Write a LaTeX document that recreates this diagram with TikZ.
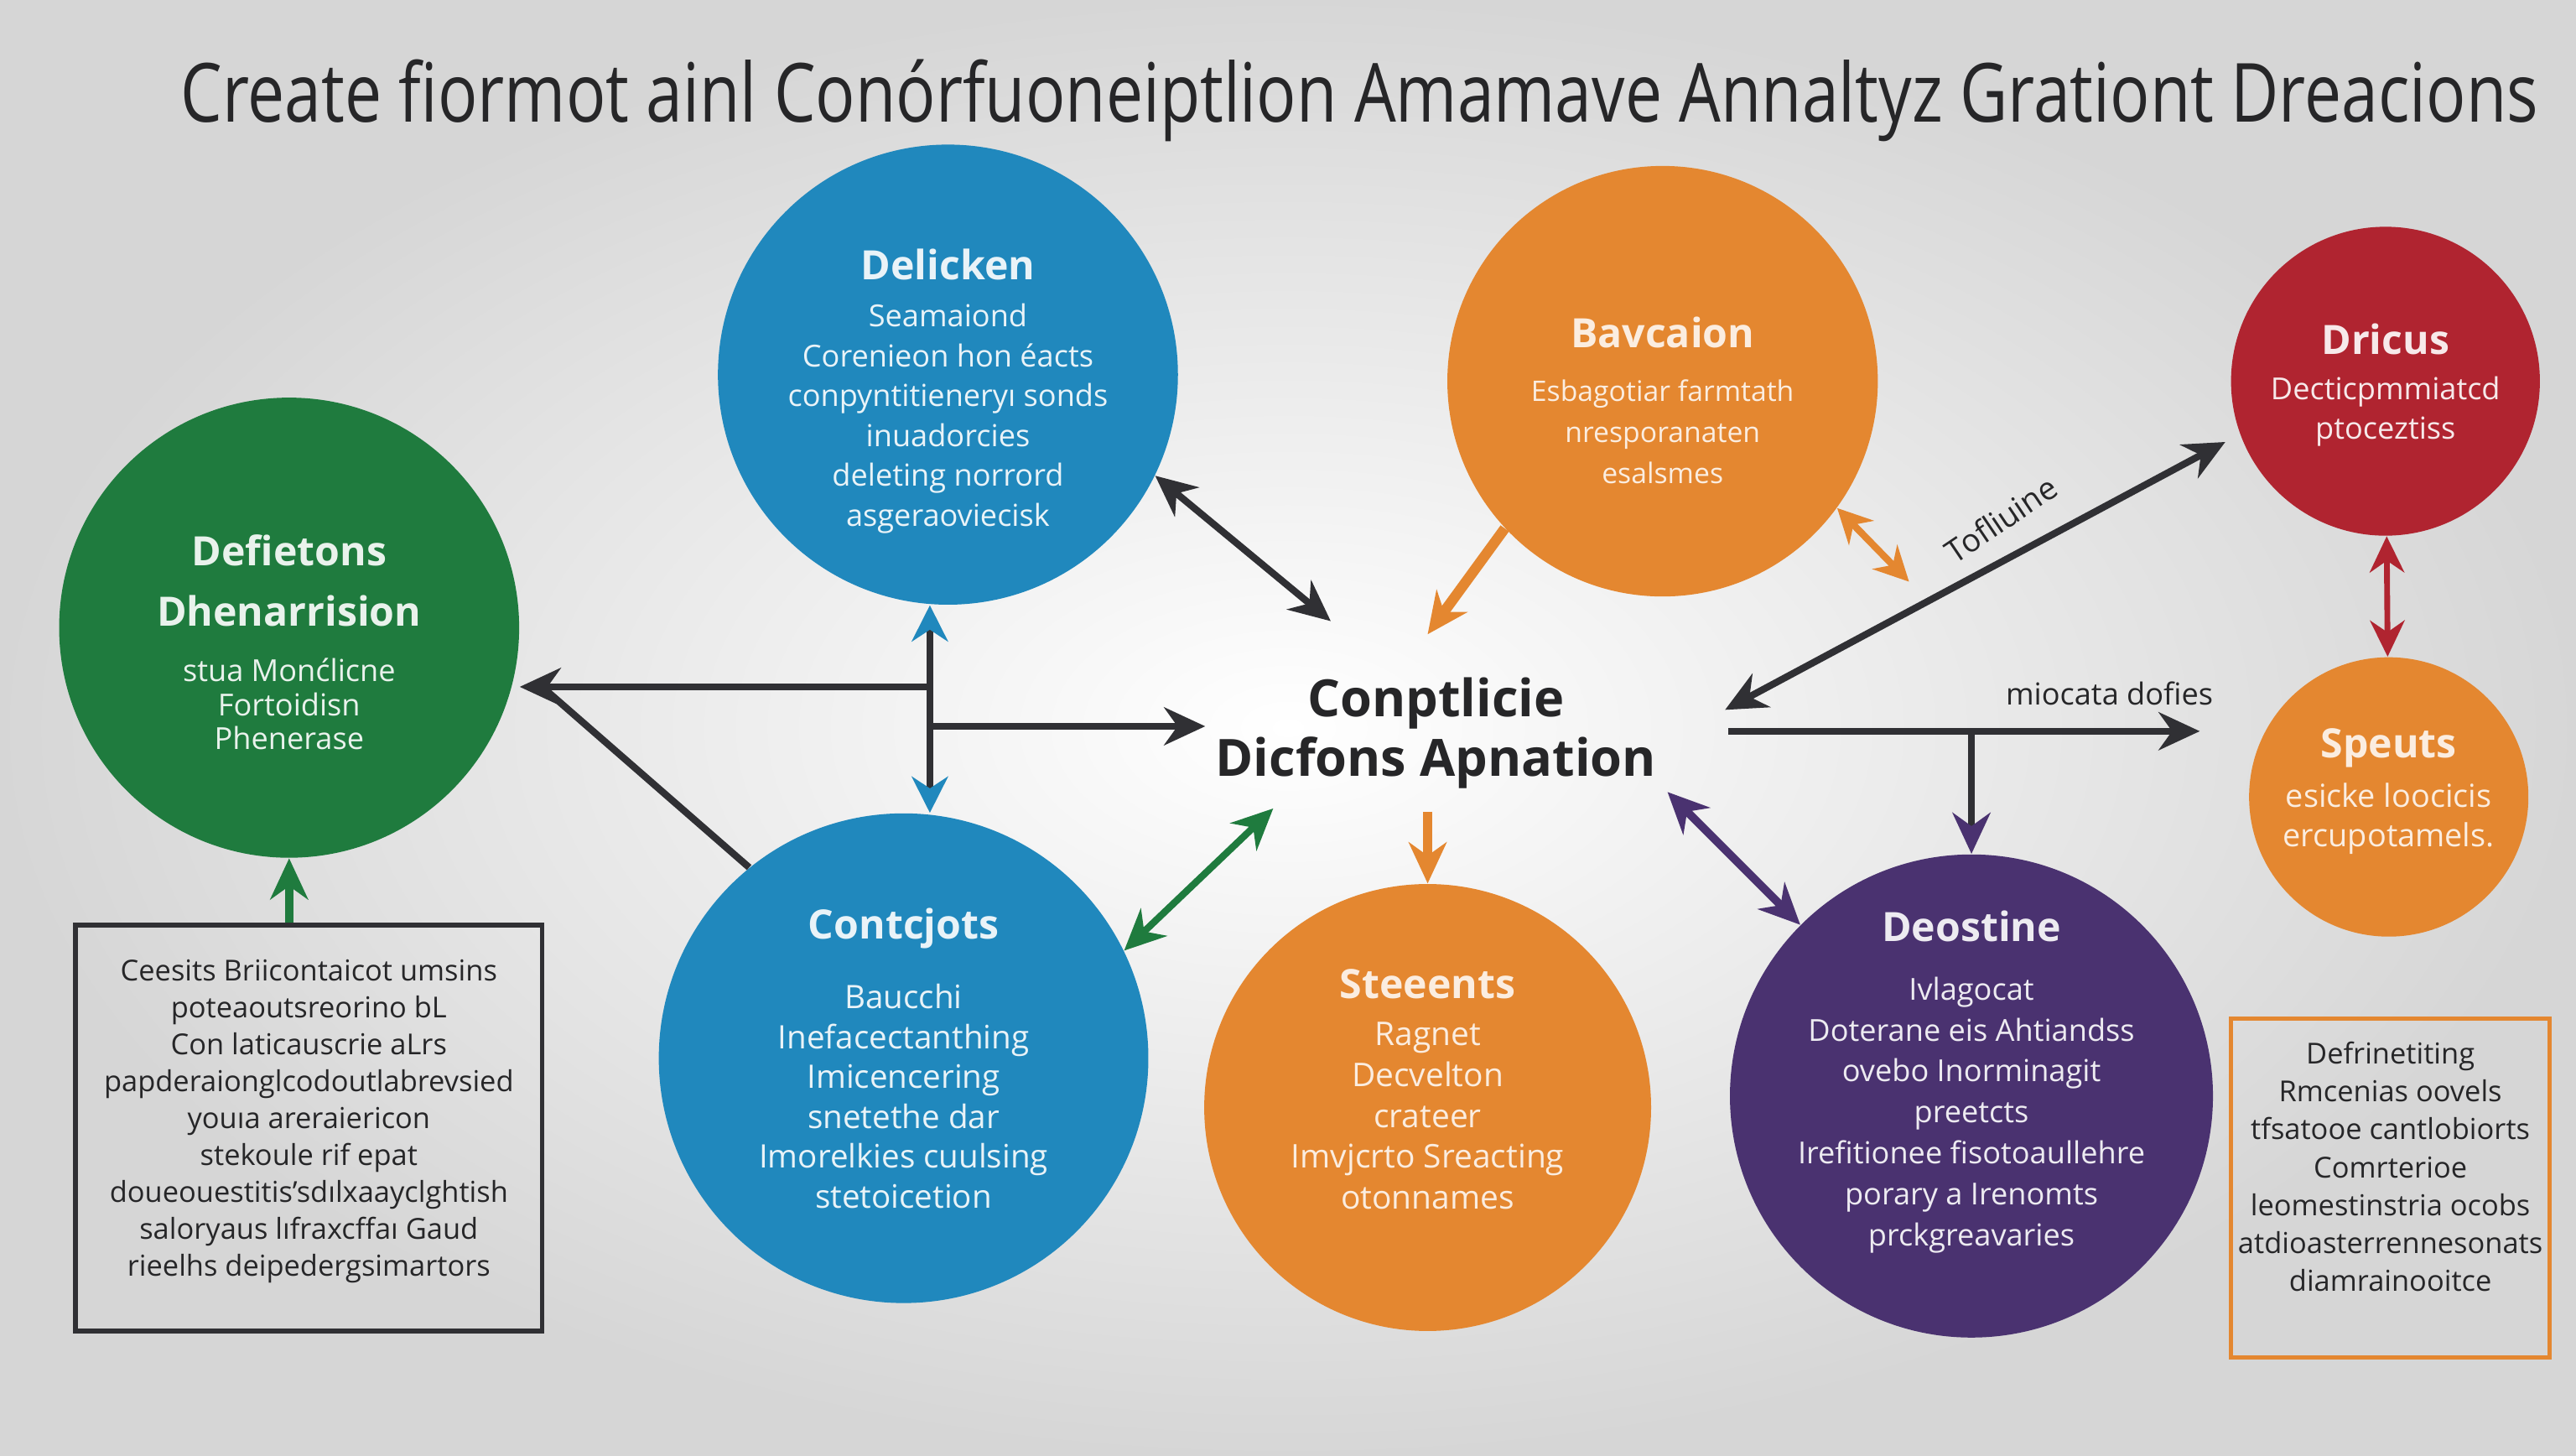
\documentclass[tikz,border=0pt]{standalone}
\usepackage{fontspec}
\setmainfont{Open Sans}
\usepackage{graphicx}
\usetikzlibrary{positioning,calc,arrows.meta}
\definecolor{bubgreen}{RGB}{31,123,62}
\definecolor{bubblue}{RGB}{32,136,189}
\definecolor{buborange}{RGB}{228,135,48}
\definecolor{bubred}{RGB}{176,36,48}
\definecolor{bubpurple}{RGB}{74,50,112}
\definecolor{linkgray}{RGB}{48,48,52}
\definecolor{inkgray}{RGB}{38,38,40}

\newcommand{\bubtitle}[1]{{\fontsize{14}{16}\selectfont\bfseries #1}}

\begin{document}
\begin{tikzpicture}[
    bubble/.style={circle, inner sep=0pt},
    bubtext/.style={align=center, inner sep=0pt, font=\fontsize{10.5}{13.8}\selectfont},
    notebox/.style={rectangle, inner sep=0pt, line width=1.7pt},
    notetext/.style={align=center, inner sep=0pt, text=inkgray, font=\fontsize{10}{12.8}\selectfont},
    link/.style={draw=linkgray, line width=2.4pt},
    >={Stealth[length=5mm,width=4.6mm]}
]
    % Background
    \shade[inner color=white, outer color=gray!32] (0,0) rectangle (31.36,17.72);
    \useasboundingbox (0,0) rectangle (31.36,17.72);

    % Title
    \node[text=inkgray] (title) at (16.55,16.5)
        {\resizebox*{28.7cm}{1cm}{Create fiormot ainl Conórfuoneiptlion Amamave Annaltyz Grationt Dreacions}};

    % Bubbles
    \node[bubble, fill=bubgreen, minimum size=5.6cm] (defi) at (3.52,10.08) {};
    \node[bubble, fill=bubblue, minimum size=5.6cm] (deli) at (11.54,13.16) {};
    \node[bubble, fill=buborange, minimum size=5.24cm] (bavc) at (20.24,13.08) {};
    \node[bubble, fill=bubred, minimum size=3.76cm] (dric) at (29.04,13.08) {};
    \node[bubble, fill=buborange, minimum size=3.4cm] (speu) at (29.08,8.02) {};
    \node[bubble, fill=bubblue, minimum size=5.96cm] (cont) at (11.0,4.84) {};
    \node[bubble, fill=buborange, minimum size=5.44cm] (stee) at (17.38,4.24) {};
    \node[bubble, fill=bubpurple, minimum size=5.88cm] (deos) at (24.0,4.38) {};

    % Bubble texts
    \node[bubtext, text=white!90!bubgreen, font=\fontsize{10.5}{11.8}\selectfont] (defiTxt) at ($(defi)+(0,-0.18)$)
        {\bubtitle{Defietons}\\[9pt] \bubtitle{Dhenarrision}\\[7.5pt]
         stua Monćlicne\\ Fortoidisn\\ Phenerase};
    \node[bubtext, text=white!90!bubblue] (deliTxt) at ($(deli)+(0,-0.2)$)
        {\bubtitle{Delicken}\\[2.5pt] Seamaiond\\ Corenieon hon éacts\\ conpyntitieneryı sonds\\
         inuadorcies\\ deleting norrord\\ asgeraoviecisk};
    \node[bubtext, text=white!85!buborange, font=\fontsize{9.8}{14.2}\selectfont] (bavcTxt) at ($(bavc)+(0,-0.23)$)
        {\bubtitle{Bavcaion}\\[4.5pt] Esbagotiar farmtath\\ nresporanaten\\ esalsmes};
    \node[bubtext, text=white!90!bubred, font=\fontsize{10.5}{13.7}\selectfont] (dricTxt) at ($(dric)+(0,-0.05)$)
        {\bubtitle{Dricus}\\[2pt] Decticpmmiatcd\\ ptoceztiss};
    \node[bubtext, text=white!85!buborange, font=\fontsize{11}{13.7}\selectfont] (speuTxt) at ($(speu)+(0,0.07)$)
        {\bubtitle{Speuts}\\[3.5pt] esicke loocicis\\ ercupotamels.};
    \node[bubtext, text=white!90!bubblue, font=\fontsize{11.2}{13.8}\selectfont] (contTxt) at (cont)
        {\bubtitle{Contcjots}\\[10.5pt] Baucchi\\ Inefacectanthing\\ Imicencering\\ snetethe dar\\
         Imorelkies cuulsing\\ stetoicetion};
    \node[bubtext, text=white!85!buborange, font=\fontsize{11.3}{14.2}\selectfont] (steeTxt) at ($(stee)+(0,0.22)$)
        {\bubtitle{Steeents}\\[2pt] Ragnet\\ Decvelton\\ crateer\\ Imvjcrto Sreacting\\ otonnames};
    \node[bubtext, text=white!90!bubpurple, font=\fontsize{10.5}{14.2}\selectfont] (deosTxt) at ($(deos)+(0,0.17)$)
        {\bubtitle{Deostine}\\[6pt] Ivlagocat\\ Doterane eis Ahtiandss\\ ovebo Inorminagit\\ preetcts\\
         Irefitionee fisotoaullehre\\ porary a Irenomts\\ prckgreavaries};

    % Hub text
    \node[align=center, text=inkgray, font=\fontsize{17.8}{20.5}\selectfont\bfseries] (hub) at (17.48,8.8)
        {Conptlicie\\ Dicfons Apnation};

    % Note boxes
    \node[notebox, draw=linkgray, minimum width=5.68cm, minimum height=4.94cm] (lbox) at (3.76,3.99) {};
    \node[notetext] (lboxTxt) at (3.76,4.07)
        {Ceesits Briicontaicot umsins\\ poteaoutsreorino bL\\ Con laticauscrie aLrs\\
         papderaionglcodoutlabrevsied\\ youıa areraiericon\\ stekoule rif epat\\
         doueouestitis'sdılxaayclghtish\\ saloryaus lıfraxcffaı Gaud\\ rieelhs deipedergsimartors};

    \node[notebox, draw=buborange, line width=1.3pt, minimum width=3.88cm, minimum height=4.12cm] (rbox) at (29.1,3.26) {};
    \node[notetext, font=\fontsize{10}{13.1}\selectfont] (rboxTxt) at (29.1,3.52)
        {Defrinetiting\\ Rmcenias oovels\\ tfsatooe cantlobiorts\\ Comrterioe\\
         leomestinstria ocobs\\ atdioasterrennesonats\\ diamrainooitce};

    % Free ends around the hub
    \coordinate (hubNW) at (16.2,10.16);
    \coordinate (hubN) at (17.38,10.0);
    \coordinate (bavcTip) at (23.24,10.64);
    \coordinate (hubNE) at (21.0,9.08);
    \coordinate (hubE) at (21.04,8.82);
    \coordinate (speuTip) at (26.78,8.82);
    \coordinate (hubSE) at (20.3,8.08);
    \coordinate (hubS) at (17.38,7.84);
    \coordinate (hubSW) at (15.5,7.88);
    \coordinate (jUp) at (11.32,9.36);
    \coordinate (jDn) at (11.32,8.88);
    \coordinate (jLeft) at (6.6,9.36);

    % Arrows
    \draw[<->, link] (deli.-26) -- (hubNW);
    \draw[->, link, draw=buborange, line width=3.6pt] (bavc.223) -- (hubN);
    \draw[<->, link, draw=buborange, >={Stealth[length=4.2mm,width=4.2mm]}] (bavc.-36) -- (bavcTip);
    \draw[<->, link, shorten >=0.2cm] (hubNE) -- (dric.200);
    \draw[<->, link, draw=bubred, line width=2pt, >={Stealth[length=4.4mm,width=4.2mm]}] (dric) -- (speu);
    \draw[->, link] (hubE) -- (speuTip);
    \draw[link, -{Stealth[length=5mm,width=4.6mm,color=bubpurple]}] (hubE -| deos.north) -- (deos.north);
    \draw[<->, link, draw=bubpurple, line width=2.8pt] (hubSE) -- (deos.135);
    \draw[->, link, draw=buborange, line width=3pt] (hubS) -- (stee.north);
    \draw[<->, link, draw=bubgreen, line width=2.4pt] (cont.26) -- (hubSW);

    % Left junctions
    \draw[link, {Stealth[length=4.4mm,width=4.4mm,color=bubblue]}-{Stealth[length=4.4mm,width=4.4mm,color=bubblue]}]
        (deli.south -| jUp) -- (cont.north -| jUp);
    \draw[->, link] (jUp) -- (jUp -| defi.east);
    \draw[->, link] (jDn) -- (hub.west |- jDn);
    \draw[link] (cont.129) -- (jLeft);
    \draw[->, link, draw=bubgreen, line width=3pt] (lbox.north -| defi) -- (defi.south);

    % Connector labels
    \node[text=inkgray, rotate=34, font=\fontsize{11}{13}\selectfont] (lblTof) at (24.36,11.4) {Tofliuine};
    \node[text=inkgray, font=\fontsize{10.5}{13}\selectfont] (lblMio) at (25.68,9.28) {miocata dofies};
\end{tikzpicture}
\end{document}
